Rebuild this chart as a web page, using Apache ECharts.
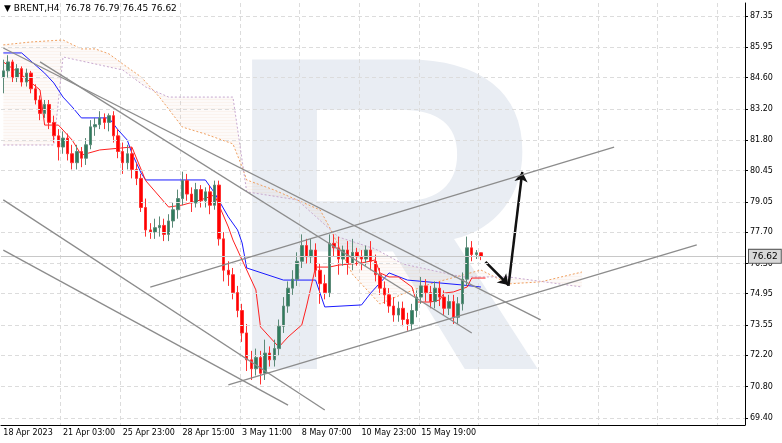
<!DOCTYPE html>
<html><head><meta charset="utf-8">
<script src="https://cdn.jsdelivr.net/npm/echarts@6/dist/echarts.min.js"></script>
<style>html,body{margin:0;padding:0;background:#fff}#container{width:782px;height:443px}</style>
</head><body><div id="container"></div>
<script>
var dateLabels = {0: '18 Apr 2023', 13: '21 Apr 03:00', 26: '25 Apr 23:00', 39: '28 Apr 15:00',
    52: '3 May 11:00', 65: '8 May 07:00', 78: '10 May 23:00', 91: '15 May 19:00'};
var priceTicks = [69.40, 70.80, 72.20, 73.55, 74.95, 76.30, 77.70, 79.05, 80.45, 81.80, 83.20, 84.60, 85.95, 87.35];

var opens = [84.6,84.9,85.3,84.6,85.0,84.4,84.8,84.1,83.6,83.0, 83.4,82.6,82.0,81.5,81.9,81.2,80.8,81.3,81.0,81.6,
    82.4,82.5,82.8,82.6,82.9,82.0,81.3,80.8,81.2,80.5, 80.1,78.8,77.8,77.7,77.9,78.0,77.6,78.2,78.7,79.2,
    80.0,79.4,79.0,79.6,79.1,79.5,78.9,79.8,77.4,76.0, 75.8,75.0,74.2,73.2,72.0,71.6,72.1,71.4,72.3,72.0,
    72.5,73.5,74.4,75.2,75.6,76.4,77.1,76.6,76.9,76.0, 75.4,75.0,77.2,77.0,76.5,76.9,76.3,76.8,76.6,76.5,
    76.9,76.4,75.8,75.2,74.9,74.4,74.0,74.3,73.8,73.6, 74.2,74.8,75.3,75.0,74.6,75.2,74.8,74.3,74.6,73.9,
    74.5,75.6,77.0,76.7,76.78];
var closes = [84.9,85.3,84.6,85.0,84.4,84.8,84.1,83.6,83.0,83.4, 82.6,82.0,81.5,81.9,81.2,80.8,81.3,81.0,81.6,82.4,
    82.5,82.8,82.6,82.9,82.0,81.3,80.8,81.2,80.5,80.1, 78.8,77.8,77.7,77.9,78.0,77.6,78.2,78.7,79.2,80.0,
    79.4,79.0,79.6,79.1,79.5,78.9,79.8,77.4,76.0,75.8, 75.0,74.2,73.2,72.0,71.6,72.1,71.4,72.3,72.0,72.5,
    73.5,74.4,75.2,75.6,76.4,77.1,76.6,76.9,76.0,75.4, 75.0,77.2,77.0,76.5,76.9,76.3,76.8,76.6,76.5,76.9,
    76.4,75.8,75.2,74.9,74.4,74.0,74.3,73.8,73.6,74.2, 74.8,75.3,75.0,74.6,75.2,74.8,74.3,74.6,73.9,74.5,
    75.6,77.0,76.7,76.78,76.62];
var highs = [85.4,85.6,85.4,85.2,85.1,85.0,84.9,84.3,83.8,83.6, 83.6,82.9,82.3,82.2,82.1,81.6,81.6,81.5,81.9,82.7,
    82.8,83.1,83.0,83.0,83.1,82.3,81.7,81.6,81.5,80.8, 80.3,79.2,78.1,78.3,78.4,78.3,78.5,79.0,79.6,80.4,
    80.3,79.7,79.9,79.8,79.7,79.8,80.0,80.0,77.7,76.4, 76.1,75.3,74.5,73.6,72.4,72.5,72.4,72.9,72.6,72.9,
    73.8,74.8,75.5,76.0,76.8,77.6,77.4,77.4,77.2,76.3, 75.8,77.6,77.6,77.5,77.1,77.3,77.4,77.0,76.9,77.1,
    77.3,76.7,76.1,75.5,75.2,74.8,74.6,74.6,74.1,74.5, 75.1,75.7,75.6,75.3,75.5,75.5,75.1,74.9,74.9,74.8,
    75.9,77.5,77.3,76.9,76.79];
var lows = [83.9,84.6,84.4,84.4,84.2,84.2,83.9,83.4,82.7,82.8, 82.3,81.7,80.9,81.2,80.9,80.5,80.5,80.6,80.7,81.4,
    82.0,82.3,82.3,82.2,81.7,81.0,80.3,80.5,80.1,79.8, 78.6,77.5,77.4,77.4,77.5,77.3,77.3,77.9,78.3,78.9,
    79.1,78.6,78.8,78.8,78.8,78.5,78.7,77.1,75.5,75.3, 74.7,73.9,72.8,71.5,71.1,71.3,70.9,71.1,71.7,71.7,
    72.2,73.2,74.1,74.9,75.3,76.1,76.3,76.3,75.7,74.5, 74.7,74.8,76.6,75.8,76.2,75.8,76.0,76.2,76.0,76.2,
    76.0,75.5,74.9,74.5,74.1,73.7,73.7,73.5,73.3,73.3, 73.9,74.5,74.6,74.3,74.3,74.4,74.0,74.0,73.6,73.6,
    74.2,75.3,76.4,76.5,76.45];

var tenkan = [[0,85.3],[4,84.72],[8,84.05],[9,82.48],[12,82.48],[15,81.81],[17,81.14],[21,81.37],[28,81.5],[31,80.0],
    [36,78.82],[39,78.91],[43,79.14],[46,79.36],[49,77.93],[50,77.35],[53,76.01],[55,75.12],[56,73.47],[60,72.57],
    [62,73.02],[65,73.56],[66,74.36],[68,76.14],[71,76.14],[73,76.23],[78,76.32],[81,76.46],[82,75.88],[84,75.7],
    [86,75.7],[89,75.25],[90,74.58],[93,74.58],[95,74.67],[96,74.98],[98,75.03],[101,75.25],[102,75.65],[105,75.65]];
var kijun = [[0,85.7],[4,85.7],[9,84.8],[11,84.36],[13,83.73],[15,83.29],[17,82.8],[23,82.8],[25,82.26],[27,81.81],
    [28,81.23],[30,80.34],[31,80.03],[44,80.03],[46,79.45],[49,78.38],[51,77.8],[52,77.22],[53,76.1],[61,75.56],
    [68,75.56],[70,74.36],[78,74.45],[80,74.98],[84,75.88],[88,75.56],[100,75.34],[104,75.25]];
var spanA = [[0,86.06],[6,86.19],[13,86.28],[17,85.88],[20,85.88],[23,85.66],[26,85.21],[30,84.63],[34,83.73],[39,82.39],
    [44,82.08],[50,81.64],[52,80.61],[53,80.03],[59,79.58],[69,78.69],[71,77.93],[76,75.83],[82,74.49],[87,74.94],
    [93,75.39],[104,76.01],[110,75.39],[117,75.48],[126,75.92]];
var spanB = [[0,81.59],[11,81.59],[13,85.52],[26,84.94],[31,84.18],[36,83.73],[50,83.73],[53,79.5],[64,79.14],[73,77.48],
    [81,76.95],[87,76.28],[93,76.01],[100,75.7],[110,75.7],[126,75.25]];
var trendLines = [
    [[0,85.92],[117,73.78]],
    [[8,85.30],[102,73.2]],
    [[32,75.25],[133,81.5]],
    [[49,70.88],[151,77.13]],
    [[0,79.14],[70,69.76]],
    [[0,76.9],[62,69.98]]
];
var arrows = [[[105,76.37],[110,75.34]], [[110,75.30],[113,80.39]]];
var lastPrice = 76.62;

var nCat = 162;
var cats = [];
for (var i = 0; i < nCat; i++) cats.push(i);
var ohlc = [];
for (var i = 0; i < closes.length; i++) ohlc.push([opens[i], closes[i], lows[i], highs[i]]);

var dom = document.getElementById('container');
var myChart = echarts.init(dom);

var series = [
    {
        type: 'custom', name: 'cloud', silent: true, z: 1,
        data: [0],
        renderItem: function (params, api) {
            var pts = [];
            spanA.forEach(function (p) { pts.push(api.coord(p)); });
            spanB.slice().reverse().forEach(function (p) { pts.push(api.coord(p)); });
            return { type: 'polygon', shape: { points: pts },
                style: { fill: 'rgba(225,180,170,0.07)', stroke: null,
                    decal: { symbol: 'rect', symbolSize: 0.35, dashArrayX: [1, 0], dashArrayY: [1, 2], color: 'rgba(230,170,120,0.45)' } } };
        }
    },
    { type: 'line', data: spanA, symbol: 'none', silent: true, z: 2,
        lineStyle: { color: '#f0a060', width: 1, type: [2, 2] } },
    { type: 'line', data: spanB, symbol: 'none', silent: true, z: 2,
        lineStyle: { color: '#c8a8d0', width: 1, type: [2, 2] } },
    { type: 'line', data: kijun, symbol: 'none', silent: true, z: 3,
        lineStyle: { color: '#1a1aff', width: 1 } },
    { type: 'line', data: tenkan, symbol: 'none', silent: true, z: 3,
        lineStyle: { color: '#ff2020', width: 1 } },
    {
        type: 'candlestick', data: ohlc, barWidth: 3, z: 4,
        itemStyle: { color: '#2e7d5e', color0: '#ff0000', borderColor: '#5c8a78', borderColor0: '#ff3030', borderWidth: 1 },
        markLine: {
            silent: true, symbol: 'none',
            lineStyle: { color: '#c8c8c8', type: 'solid', width: 1 },
            label: { show: true, position: 'end', formatter: '76.62', color: '#000',
                backgroundColor: '#d8d8d8', borderColor: '#555', borderWidth: 1, padding: [2, 3], fontSize: 9, distance: 4 },
            data: [{ yAxis: lastPrice }]
        }
    }
];
trendLines.forEach(function (l) {
    series.push({ type: 'line', data: l, symbol: 'none', silent: true, z: 5,
        lineStyle: { color: '#8c8c8c', width: 1.3 } });
});
arrows.forEach(function (a) {
    series.push({ type: 'line', data: [], silent: true, z: 6,
        markLine: { silent: true, symbol: ['none', 'arrow'], symbolSize: 10,
            lineStyle: { color: '#111', width: 2.5, type: 'solid' }, label: { show: false },
            data: [[{ coord: a[0] }, { coord: a[1] }]] } });
});
series.push({ type: 'line', data: [], silent: true, z: 0,
    markLine: { silent: true, symbol: 'none', label: { show: false },
        lineStyle: { color: '#dcdcdc', type: [4, 3], width: 1 },
        data: priceTicks.map(function (v) { return { yAxis: v }; }) } });

option = {
    animation: false,
    backgroundColor: '#fff',
    textStyle: { fontFamily: 'DejaVu Sans' },
    graphic: [
        { type: 'text', left: 222, top: 20, z: -10, silent: true,
          style: { text: 'R', fontFamily: 'Liberation Sans', fontWeight: 'bold', fontSize: 450, fill: '#e9edf3' } },
        { type: 'text', left: 4, top: 4, style: { text: '▼ BRENT,H4  76.78 76.79 76.45 76.62', fontFamily: 'DejaVu Sans', fontSize: 9, fill: '#000' } }
    ],
    grid: { left: 1, right: 37, top: 3, bottom: 18 },
    xAxis: {
        type: 'category', data: cats, boundaryGap: true,
        axisLine: { lineStyle: { color: '#000' } },
        axisTick: { show: false },
        axisLabel: { interval: 0, align: 'left', fontSize: 8, color: '#000', margin: 4,
            formatter: function (v, idx) { return dateLabels[idx] || ''; } },
        splitLine: { show: true, interval: function (idx) { return idx % 13 === 0 && idx > 0; },
            lineStyle: { color: '#dcdcdc', type: [4, 3] } }
    },
    yAxis: {
        type: 'value', position: 'right', min: 69.09, max: 87.93,
        axisLine: { show: true, lineStyle: { color: '#000' } },
        axisTick: { show: true, customValues: priceTicks, length: 3 },
        axisLabel: { customValues: priceTicks, fontSize: 8, color: '#000', margin: 5,
            formatter: function (v) { return v.toFixed(2); } },
        splitLine: { show: false }
    },
    series: series
};

if (option && typeof option === "object") {
    myChart.setOption(option, true);
}
</script>
</body></html>
